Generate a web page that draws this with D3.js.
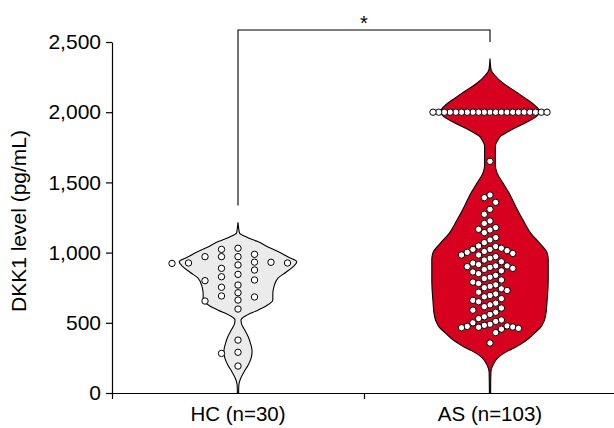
<!DOCTYPE html>
<html>
<head>
<meta charset="utf-8">
<script src="https://cdn.jsdelivr.net/npm/d3@7"></script>
<style>
body { margin: 0; background: #fff; }
text { font-family: Arial, "Liberation Sans", sans-serif; fill: #000; }
</style>
</head>
<body>
<div id="vis"></div>
<script>
// categories + tick labels
var groups = ['HC (n=30)', 'AS (n=103)'];
var yTicks = [0, 500, 1000, 1500, 2000, 2500];
var groupFill = ['#ebebeb', '#d7001e'];

// individual DKK1 values (pg/mL)
var hcValues = [1031, 971, 932, 800, 753, 655,
                926, 926, 684,
                923, 876, 828, 691, 598,
                1023, 971, 888, 845, 805, 769,
                971, 912, 714, 662,
                988, 931,
                377, 290, 282, 192];

var asValues = [2000, 2000, 2000, 2000, 2000, 2000, 2000, 2000, 2000, 2000, 2000,
                2000, 2000, 2000, 2000, 2000, 2000, 2000, 2000, 2000, 2000,
                1650,
                1410, 1391, 1358, 1308,
                1273, 1225, 1208, 1178, 1166, 1161,
                1142, 1107, 1090, 1071, 1047, 1043, 1031, 1023, 1023, 1014, 1008, 1002,
                994, 983, 983, 971, 960, 947, 935, 925, 915, 905, 905, 900,
                895, 888, 880, 870, 862, 850, 838, 825, 815, 805,
                790, 780, 770, 760, 750, 742, 730, 718, 705,
                695, 685, 672, 660, 650, 640, 628, 615, 605,
                590, 575, 560, 543, 530, 520, 510, 500,
                490, 482, 478, 474, 470, 468, 465, 460, 455,
                430, 356];

// violin outlines: [value, relative density]
var hcDensity = [[0, 0.01], [60, 0.015], [100, 0.04], [150, 0.1], [200, 0.17], [250, 0.22],
                 [300, 0.235], [350, 0.21], [400, 0.17], [450, 0.11], [490, 0.06], [520, 0.05],
                 [550, 0.13], [590, 0.33], [620, 0.47], [660, 0.58], [700, 0.58], [760, 0.6],
                 [820, 0.67], [860, 0.8], [900, 0.92], [935, 0.98], [970, 0.83], [1000, 0.7],
                 [1040, 0.5], [1080, 0.32], [1110, 0.15], [1140, 0.025], [1170, 0.012], [1215, 0]];

var asDensity = [[0, 0.01], [150, 0.015], [180, 0.03], [200, 0.05], [250, 0.13], [300, 0.3],
                 [320, 0.4], [350, 0.52], [390, 0.65], [430, 0.75], [460, 0.83], [510, 0.9],
                 [560, 0.93], [650, 0.95], [800, 0.97], [950, 0.97], [1000, 0.95], [1066, 0.83],
                 [1137, 0.68], [1232, 0.55], [1327, 0.43], [1422, 0.32], [1493, 0.22], [1564, 0.12],
                 [1620, 0.09], [1700, 0.09], [1760, 0.09], [1800, 0.13], [1826, 0.17], [1873, 0.35],
                 [1921, 0.58], [1969, 0.77], [2004, 0.83], [2040, 0.77], [2087, 0.63], [2146, 0.43],
                 [2206, 0.22], [2265, 0.075], [2300, 0.02], [2383, 0]];

var w = 614,
    h = 428,
    tickLen = 6;

var y = d3.scaleLinear().domain([0, 2500]).range([393, 42]);
var x = d3.scaleLinear().domain([0, 2]).range([112, 616]);
var halfW = d3.scaleLinear().domain([0, 1]).range([0, 60]);

var svg = d3.select("#vis")
            .append("svg")
            .attr("width", w)
            .attr("height", h);

/******* VIOLINS *******/
var violins = [
    { cx: x(0.5), dens: hcDensity, fill: groupFill[0] },
    { cx: x(1.5), dens: asDensity, fill: groupFill[1] }
];

violins.forEach(function(vl) {
    var area = d3.area()
                 .y(function(d) { return y(d[0]); })
                 .x0(function(d) { return vl.cx - halfW(d[1]); })
                 .x1(function(d) { return vl.cx + halfW(d[1]); })
                 .curve(d3.curveMonotoneY);
    svg.append("path")
       .datum(vl.dens)
       .attr("d", area)
       .attr("fill", vl.fill)
       .attr("stroke", "#000")
       .attr("stroke-width", 1.1);
});

/******* DOTS (slot swarm, prism-ish) *******/
function swarm(values, cx, step, minDy) {
    var placed = [];
    values.slice().sort(d3.descending).forEach(function(v) {
        var py = y(v);
        for (var k = 0; k < 200; k++) {
            var off = k === 0 ? 0 : (k % 2 ? -(k + 1) / 2 : k / 2) * step;
            var hit = placed.some(function(p) {
                return Math.abs(p.x - (cx + off)) < step * 0.99 && Math.abs(p.y - py) < minDy;
            });
            if (!hit) { placed.push({ v: v, x: cx + off, y: py }); break; }
        }
    });
    return placed;
}

var dots = swarm(hcValues, x(0.5), 16.5, 7)
    .concat(swarm(asValues, x(1.5), 5.7, 8.5));

svg.selectAll(".dot")
   .data(dots)
   .enter()
   .append("circle")
   .attr("class", "dot")
   .attr("cx", function(d) { return d.x; })
   .attr("cy", function(d) { return d.y; })
   .attr("r", 3.2)
   .attr("fill", "#fff")
   .attr("stroke", "#000")
   .attr("stroke-width", 1);

/******* AXES *******/
var yAxis = svg.append("g")
   .attr("transform", "translate(" + x(0) + ",0)")
   .call(d3.axisLeft(y).tickValues(yTicks).tickFormat(d3.format(",")).tickSize(tickLen).tickSizeOuter(0));
yAxis.selectAll("text").attr("font-size", 21).attr("font-family", "Arial, 'Liberation Sans', sans-serif").attr("x", -11);
yAxis.select(".domain").attr("stroke-width", 1.2);
yAxis.selectAll(".tick line").attr("stroke-width", 1.2);

var xAxis = svg.append("g")
   .attr("transform", "translate(0," + y(0) + ")")
   .call(d3.axisBottom(x).tickValues([0, 1, 2]).tickFormat("").tickSize(tickLen).tickSizeOuter(0));
xAxis.select(".domain").attr("stroke-width", 1.2);
xAxis.selectAll(".tick line").attr("stroke-width", 1.2);

svg.selectAll(".xLabel")
   .data(groups)
   .enter()
   .append("text")
   .attr("class", "xLabel")
   .attr("x", function(d, i) { return x(i + 0.5); })
   .attr("y", 421)
   .attr("text-anchor", "middle")
   .attr("font-size", 20.5)
   .text(function(d) { return d; });

svg.append("text")
   .attr("transform", "rotate(-90)")
   .attr("x", -221)
   .attr("y", 26)
   .attr("text-anchor", "middle")
   .attr("font-size", 21)
   .text("DKK1 level (pg/mL)");

/******* SIGNIFICANCE *******/
svg.append("path")
   .attr("d", "M" + x(0.5) + "," + (y(1215) - 17) + "V30H" + x(1.5) + "V42")
   .attr("fill", "none")
   .attr("stroke", "#000")
   .attr("stroke-width", 1.1);

svg.append("text")
   .attr("x", x(1))
   .attr("y", 30)
   .attr("text-anchor", "middle")
   .attr("font-size", 20)
   .text("*");
</script>
</body>
</html>
